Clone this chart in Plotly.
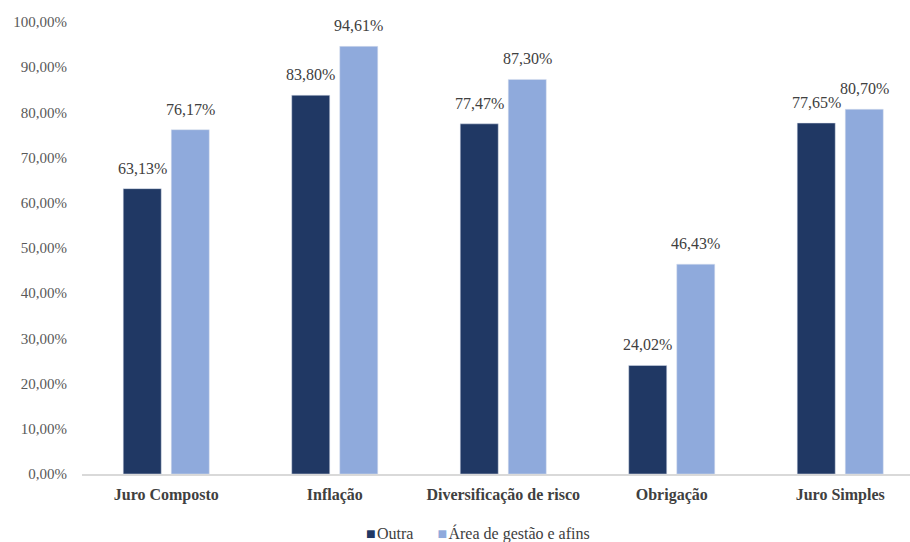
import plotly.graph_objects as go

categories = ["Juro Composto", "Inflação", "Diversificação de risco", "Obrigação", "Juro Simples"]
outra = [63.13, 83.80, 77.47, 24.02, 77.65]
gestao = [76.17, 94.61, 87.30, 46.43, 80.70]
series_names = ["Outra", "Área de gestão e afins"]
tick_vals = [0, 10, 20, 30, 40, 50, 60, 70, 80, 90, 100]
tick_text = [f"{v:.2f}%".replace(".", ",") for v in tick_vals]

dark = "#203864"
light = "#8FAADC"
font = "Liberation Serif"

xs = list(range(len(categories)))
fig = go.Figure()
fig.add_trace(go.Bar(x=xs, y=outra, name=series_names[0], showlegend=False,
                     marker=dict(color=dark, line=dict(color="#dde3ee", width=0.5))))
fig.add_trace(go.Bar(x=xs, y=gestao, name=series_names[1], showlegend=False,
                     marker=dict(color=light, line=dict(color="#dde3ee", width=0.5))))

def fmt(v):
    return f"{v:.2f}%".replace(".", ",")

off = 0.1425
annotations = []
for i, (a, b) in enumerate(zip(outra, gestao)):
    for dx, v in ((-off, a), (off, b)):
        annotations.append(dict(x=i + dx, y=v, xref="x", yref="y", text=fmt(v), showarrow=False,
                                yanchor="bottom", yshift=10, font=dict(family=font, size=16, color="#404040")))

# legend drawn as text (Excel-like compact legend)
legend_text = (f'<span style="color:{dark}">■</span>\u200a{series_names[0]}'
               f'      <span style="color:{light}">■</span>\u200a{series_names[1]}')
annotations.append(dict(x=0.478, y=-0.1325, xref="paper", yref="paper", text=legend_text, showarrow=False,
                        xanchor="center", yanchor="middle", font=dict(family=font, size=16, color="#404040")))

fig.update_layout(
    width=910, height=542,
    margin=dict(l=82, r=0, t=22, b=68, autoexpand=False),
    paper_bgcolor="white", plot_bgcolor="white",
    barmode="group", bargap=0.43, bargroupgap=0.208,
    font=dict(family=font, size=15, color="#595959"),
    showlegend=False,
    annotations=annotations,
    xaxis=dict(tickvals=xs, ticktext=[f"<b>{c}</b>" for c in categories], range=[-0.5, 4.414],
               showline=True, linecolor="#d9d9d9", linewidth=1.5, ticks="", showgrid=False, zeroline=False,
               automargin=False, ticklabelstandoff=5,
               tickfont=dict(family=font, size=16, color="#404040")),
    yaxis=dict(range=[0, 100], tickvals=tick_vals, ticktext=tick_text, showgrid=False, zeroline=False,
               automargin=False,
               showline=False, ticks="", tickfont=dict(family=font, size=15, color="#595959"), ticklabelstandoff=14),
)
fig.write_html("out.html")
